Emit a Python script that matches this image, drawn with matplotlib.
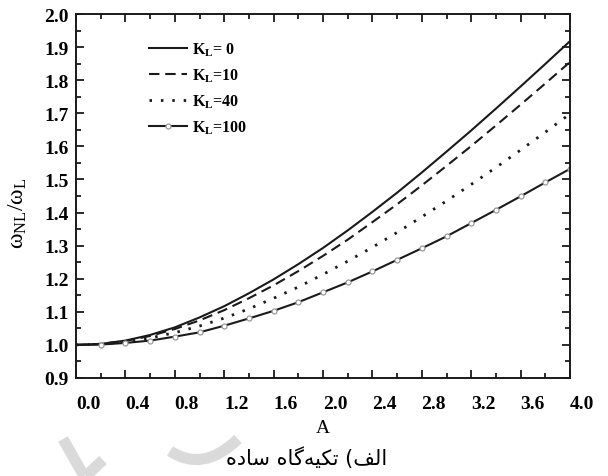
import matplotlib
matplotlib.use("Agg")
import matplotlib.pyplot as plt
from matplotlib.path import Path
from matplotlib.patches import PathPatch
from matplotlib.transforms import ScaledTranslation

# amplitude A and frequency ratio for each foundation stiffness K_L
A = [0.0, 0.2, 0.4, 0.6, 0.8, 1.0, 1.2, 1.4, 1.6, 1.8, 2.0,
     2.2, 2.4, 2.6, 2.8, 3.0, 3.2, 3.4, 3.6, 3.8, 4.0]
ratio_k0 = [1.000, 1.003, 1.013, 1.030, 1.053, 1.083, 1.117, 1.156, 1.198, 1.244, 1.293,
            1.346, 1.402, 1.460, 1.521, 1.584, 1.648, 1.714, 1.781, 1.849, 1.918]
ratio_k10 = [1.000, 1.003, 1.012, 1.027, 1.048, 1.074, 1.105, 1.141, 1.180, 1.223, 1.269,
             1.318, 1.371, 1.425, 1.482, 1.541, 1.601, 1.663, 1.726, 1.790, 1.855]
ratio_k40 = [1.000, 1.002, 1.009, 1.021, 1.037, 1.057, 1.081, 1.109, 1.141, 1.175, 1.213,
             1.253, 1.295, 1.340, 1.387, 1.435, 1.485, 1.536, 1.589, 1.643, 1.698]
ratio_k100 = [1.000, 1.001, 1.006, 1.013, 1.025, 1.038, 1.058, 1.080, 1.103, 1.129, 1.159,
              1.189, 1.222, 1.257, 1.292, 1.328, 1.368, 1.408, 1.449, 1.491, 1.532]

labels = [r"K$_\mathbf{L}$= 0", r"K$_\mathbf{L}$=10", r"K$_\mathbf{L}$=40", r"K$_\mathbf{L}$=100"]
x_ticks = [0.0, 0.4, 0.8, 1.2, 1.6, 2.0, 2.4, 2.8, 3.2, 3.6, 4.0]
y_ticks = [0.9, 1.0, 1.1, 1.2, 1.3, 1.4, 1.5, 1.6, 1.7, 1.8, 1.9, 2.0]

# caption "الف) تکیه‌گاه ساده" in shaped presentation forms, visual order
caption = ("\uFEE9\uFEA9\uFE8E\uFEB3 "
           "\uFEE9\uFE8E\uFB94\uFEEA\uFBFF\uFB91\uFE97 "
           "(\uFED2\uFEDF\uFE8D")

plt.rcParams["font.family"] = ["Liberation Serif", "DejaVu Sans"]
plt.rcParams["mathtext.fontset"] = "custom"
plt.rcParams["mathtext.rm"] = "Liberation Serif"
plt.rcParams["mathtext.it"] = "Liberation Serif:italic"
plt.rcParams["mathtext.bf"] = "Liberation Serif:bold"

W, H = 608, 477
fig = plt.figure(figsize=(W / 100, H / 100), dpi=100)
ax = fig.add_axes([76 / W, 1 - 379 / H, (570 - 76) / W, (379 - 15) / H])

ink = "#1a1a1a"
ax.plot(A, ratio_k0, color=ink, lw=1.5, label=labels[0])
ax.plot(A, ratio_k10, color=ink, lw=1.5, ls=(0, (5, 2.8)), label=labels[1])
ax.plot(A, ratio_k40, color=ink, lw=2.0, ls=(0, (0.9, 3.2)), label=labels[2])
ax.plot(A, ratio_k100, color=ink, lw=1.5, marker="o", ms=3.6, mfc="white",
        mec="#9a9a9a", mew=0.9, markevery=slice(1, None), label=labels[3])

ax.set_xlim(0, 4.0)
ax.set_ylim(0.9, 2.0)
ax.set_xticks(x_ticks)
ax.set_xticks([t + 0.2 for t in x_ticks[:-1]], minor=True)
ax.set_yticks(y_ticks)
ax.set_yticks([t + 0.05 for t in y_ticks[:-1]], minor=True)
ax.set_xticklabels([f"{t:.1f}" for t in x_ticks])
ax.set_yticklabels([f"{t:.1f}" for t in y_ticks])

for side in ax.spines.values():
    side.set_linewidth(1.4)
    side.set_color(ink)
ax.tick_params(which="both", direction="in", top=True, right=True, width=1.3, color=ink)
ax.tick_params(which="major", length=6)
ax.tick_params(which="minor", length=3.5)
ax.tick_params(axis="x", pad=12, labelsize=14)
ax.tick_params(axis="y", pad=5, labelsize=14)
for lab in ax.get_xticklabels() + ax.get_yticklabels():
    lab.set_fontweight("bold")

# the x labels sit a little to the right of their ticks
shift = ScaledTranslation(12 / 100, 0, fig.dpi_scale_trans)
for lab in ax.get_xticklabels():
    lab.set_transform(lab.get_transform() + shift)

ax.set_xlabel("A", fontsize=14)
ax.xaxis.set_label_coords(0.5, -0.113)
ax.set_ylabel(r"$\mathregular{\omega_{NL}/\omega_L}$", fontsize=17)
ax.yaxis.set_label_coords(-0.095, 0.456)

ax.legend(loc="upper left", bbox_to_anchor=(0.135, 0.945), frameon=False,
          prop={"weight": "bold", "size": 11.5}, handlelength=2.4,
          handletextpad=0.3, labelspacing=0.55, borderaxespad=0)

fig.text(307 / W, 1 - 458 / H, caption, family=["DejaVu Sans"], fontsize=15,
         ha="center", va="center", color="black")


def px(x, y):
    return (x / W, 1 - y / H)


# light grey strokes along the bottom edge
grey = "#dadada"
marks = [
    ([px(63, 440), px(84, 477)], [Path.MOVETO, Path.LINETO]),
    ([px(86, 477), px(103, 461)], [Path.MOVETO, Path.LINETO]),
    ([px(170, 452), px(203, 474), px(238, 440)], [Path.MOVETO, Path.CURVE3, Path.CURVE3]),
]
for verts, codes in marks:
    fig.add_artist(PathPatch(Path(verts, codes), transform=fig.transFigure,
                             fill=False, edgecolor=grey, lw=8, capstyle="butt",
                             zorder=-1))

fig.savefig("out.png", dpi=100)
